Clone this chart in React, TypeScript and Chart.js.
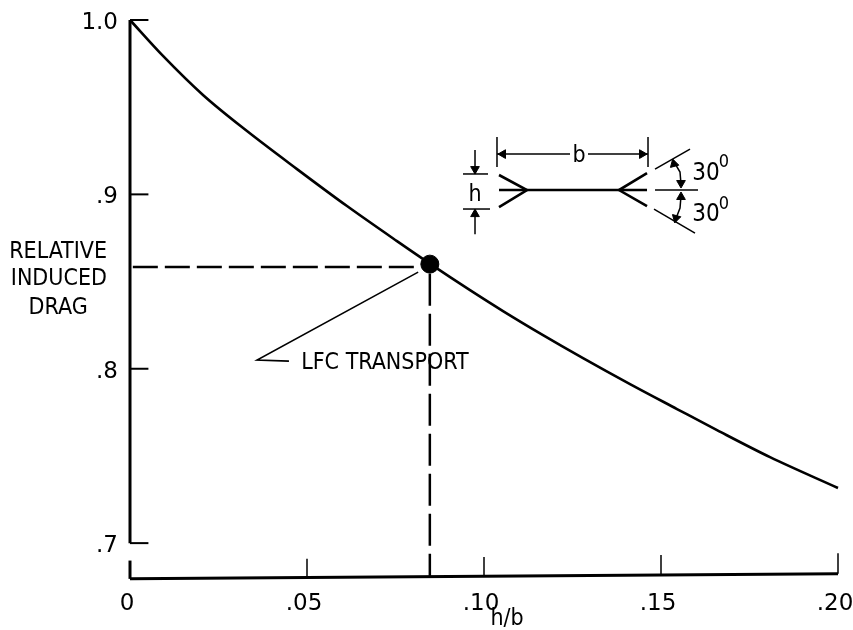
import React, { useEffect, useRef } from "react";
import { Chart, registerables } from "chart.js";

Chart.register(...registerables);

const FONT = '"DejaVu Sans"';
const FONT_STRETCH = "condensed";
const FONT_SIZE = 23;

// Axis ticks
const xTickValues = [0, 0.05, 0.1, 0.15, 0.2];
const xTickLabels = ["0", ".05", ".10", ".15", ".20"];
const yTickValues = [1.0, 0.9, 0.8, 0.7];
const yTickLabels = ["1.0", ".9", ".8", ".7"];

// Main curve
const curveX = [0, 0.00932, 0.02062, 0.03305, 0.04718, 0.0613, 0.07542, 0.0847, 0.09605, 0.10537, 0.11667, 0.12797, 0.14125, 0.15452, 0.16582, 0.1808, 0.2];
const curveY = [1.0, 0.9794, 0.957, 0.9363, 0.9145, 0.8933, 0.8732, 0.8603, 0.8451, 0.8331, 0.8193, 0.8061, 0.7912, 0.7769, 0.7648, 0.7493, 0.7316];

// LFC transport design point
const pointX = [0.0847];
const pointY = [0.86];

type XY = number[][];

// Thin solid lines in [h/b, drag] pairs
const leaderLine: XY = [[0.0814, 0.8554], [0.0359, 0.805], [0.0449, 0.8044]];
const yAxisLine: XY = [[0, 1.0], [0, 0.7]];
const xAxisLine: XY = [[0, 0.6795], [0.2, 0.6825]];
const schematicThin: XY[] = [
  [[0.10367, 0.9329], [0.10367, 0.9157]],
  [[0.14633, 0.9329], [0.14633, 0.9157]],
  [[0.10367, 0.9231], [0.1243, 0.9231]],
  [[0.12938, 0.9231], [0.14633, 0.9231]],
  [[0.09746, 0.9254], [0.09746, 0.9117]],
  [[0.09407, 0.9117], [0.10113, 0.9117]],
  [[0.09407, 0.8916], [0.1017, 0.8916]],
  [[0.09746, 0.891], [0.09746, 0.8772]],
  [[0.14831, 0.9025], [0.16045, 0.9025]],
  [[0.14831, 0.9145], [0.1582, 0.926]],
  [[0.14802, 0.8916], [0.15961, 0.8778]],
  [[0.15339, 0.9197], [0.15537, 0.9128], [0.15565, 0.9059]],
  [[0.15565, 0.899], [0.15537, 0.8922], [0.15396, 0.8847]],
];
const schematicThick: XY[] = [
  [[0.10424, 0.9025], [0.14605, 0.9025]],
  [[0.10424, 0.9111], [0.11215, 0.9025], [0.10424, 0.8927]],
  [[0.14605, 0.9122], [0.13814, 0.9025], [0.14605, 0.8933]],
];
const arrowHeads: XY = [
  [0.10537, 0.9231], [0.14464, 0.9231], [0.09746, 0.9145], [0.09746, 0.8887],
  [0.15367, 0.9175], [0.15565, 0.9065], [0.15565, 0.8985], [0.15424, 0.8864],
];
const arrowRotations = [-90, 90, 180, 0, -15, 180, 0, 195];

// Dashed guides
const horizontalGuide: XY = [[0.0008, 0.8583], [0.0819, 0.8583]];
const verticalGuide: XY = [[0.0847, 0.8545], [0.0847, 0.6805]];

// Labels placed in data coordinates
const labels = [
  { text: "RELATIVE", x: -0.0203, y: 0.8669, size: FONT_SIZE },
  { text: "INDUCED", x: -0.0201, y: 0.8514, size: FONT_SIZE },
  { text: "DRAG", x: -0.0203, y: 0.8347, size: FONT_SIZE },
  { text: "LFC TRANSPORT", x: 0.072, y: 0.8032, size: FONT_SIZE },
  { text: "b", x: 0.12684, y: 0.9219, size: FONT_SIZE },
  { text: "h", x: 0.09746, y: 0.8996, size: FONT_SIZE },
  { text: "30", x: 0.1627, y: 0.9116, size: 24 },
  { text: "0", x: 0.1678, y: 0.9185, size: 18 },
  { text: "30", x: 0.1627, y: 0.8881, size: 24 },
  { text: "0", x: 0.1678, y: 0.8945, size: 18 },
  { text: "h/b", x: 0.1065, y: 0.6564, size: FONT_SIZE },
];

const textPlugin = {
  id: "textLabels",
  afterDatasetsDraw(chart: any) {
    const { ctx, scales } = chart;
    ctx.save();
    ctx.fillStyle = "#000";
    ctx.textAlign = "center";
    ctx.textBaseline = "middle";
    labels.forEach((l) => {
      ctx.font = `${FONT_STRETCH} ${l.size}px ${FONT}`;
      ctx.fillText(l.text, scales.x.getPixelForValue(l.x), scales.y.getPixelForValue(l.y));
    });
    ctx.restore();
  },
};

const toPoints = (pts: XY) => pts.map(([x, y]) => ({ x, y }));
const lineSet = (pts: XY, borderWidth: number, borderDash: number[] = []) => ({
  data: toPoints(pts),
  borderColor: "#000",
  backgroundColor: "#000",
  borderWidth,
  borderDash,
  pointRadius: 0,
  showLine: true,
  clip: false as const,
  tension: 0,
});

// Ticks grow from the axes; lengths are in data units
const yTickMarks: XY[] = yTickValues.map((v) => [[0, v], [0.0052, v]]);
const xTickMarks: XY[] = xTickValues.map((v, i) => {
  const base = 0.6795 + (v / 0.2) * 0.003;
  return [[v, base], [v, base + 0.0105 + i * 0.0003]];
});

export default function App() {
  const ref = useRef<HTMLCanvasElement>(null);

  useEffect(() => {
    document.body.style.margin = "0";
    const chart = new Chart(ref.current!, {
      type: "scatter",
      plugins: [textPlugin],
      data: {
        datasets: [
          {
            ...lineSet(curveX.map((x, i) => [x, curveY[i]]), 2.6),
            cubicInterpolationMode: "monotone",
          },
          lineSet(yAxisLine, 3),
          lineSet(xAxisLine, 3),
          ...yTickMarks.map((t) => lineSet(t, 2)),
          ...xTickMarks.map((t, i) => lineSet(t, i === 0 ? 3 : 1.5)),
          lineSet(horizontalGuide, 2.5, [25, 7]),
          lineSet(verticalGuide, 2.5, [32, 8]),
          lineSet(leaderLine, 1.6),
          ...schematicThin.map((s) => lineSet(s, 1.5)),
          ...schematicThick.map((s) => lineSet(s, 2.6)),
          {
            data: toPoints(arrowHeads),
            showLine: false,
            pointStyle: "triangle",
            pointRadius: 5,
            pointRotation: arrowRotations,
            pointBackgroundColor: "#000",
            pointBorderColor: "#000",
            clip: false,
          },
          {
            data: pointX.map((x, i) => ({ x, y: pointY[i] })),
            showLine: false,
            pointRadius: 9,
            pointBackgroundColor: "#000",
            pointBorderColor: "#000",
            clip: false,
          },
        ] as any,
      },
      options: {
        responsive: false,
        animation: false,
        layout: { padding: { top: 20, right: 15, left: 0, bottom: 0 } },
        plugins: { legend: { display: false }, tooltip: { enabled: false } },
        scales: {
          x: {
            type: "linear",
            min: 0,
            max: 0.2,
            afterBuildTicks: (s: any) => {
              s.ticks = xTickValues.map((value) => ({ value }));
            },
            afterFit: (s: any) => {
              s.height = 52;
              s.paddingLeft = 0;
              s.paddingRight = 0;
            },
            grid: { display: false, drawTicks: false },
            border: { display: false },
            ticks: {
              autoSkip: false,
              maxRotation: 0,
              padding: 12,
              labelOffset: -3,
              color: "#000",
              font: { family: FONT, size: FONT_SIZE, style: FONT_STRETCH },
              callback: (v: any) => xTickLabels[xTickValues.indexOf(v)] ?? "",
            },
          },
          y: {
            type: "linear",
            min: 0.68,
            max: 1.0,
            afterBuildTicks: (s: any) => {
              s.ticks = yTickValues.map((value) => ({ value }));
            },
            afterFit: (s: any) => {
              s.width = 130;
              s.paddingTop = 0;
              s.paddingBottom = 0;
            },
            grid: { display: false, drawTicks: false },
            border: { display: false },
            ticks: {
              autoSkip: false,
              padding: 12,
              labelOffset: 3,
              color: "#000",
              font: { family: FONT, size: FONT_SIZE, style: FONT_STRETCH },
              callback: (v: any) => yTickLabels[yTickValues.indexOf(v)] ?? "",
            },
          },
        },
      } as any,
    });
    return () => chart.destroy();
  }, []);

  return <canvas ref={ref} width={853} height={630} style={{ display: "block" }} />;
}
